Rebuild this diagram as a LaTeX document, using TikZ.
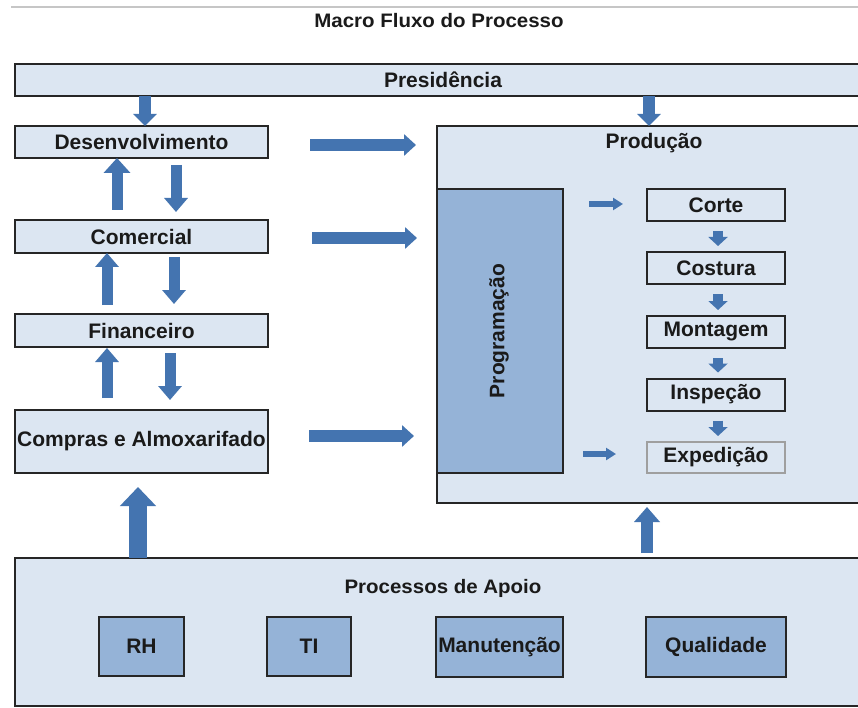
\documentclass[tikz,border=0pt]{standalone}
\usepackage{fontspec}
\setmainfont{Liberation Sans}
\usetikzlibrary{arrows.meta,calc}

\definecolor{boxfill}{HTML}{DCE6F2}
\definecolor{darkfill}{HTML}{95B3D7}
\definecolor{edge}{HTML}{262626}
\definecolor{arrowblue}{HTML}{4474B0}
\definecolor{inktext}{HTML}{1A1A1A}

\tikzset{
  lbl/.style={font=\bfseries\fontsize{21}{24}\selectfont, text=inktext, inner sep=0pt},
  headlbl/.style={font=\bfseries\fontsize{19.5}{22}\selectfont, text=inktext, inner sep=0pt},
  panel/.style={draw=edge, line width=2.2pt, fill=boxfill, inner sep=0pt, outer sep=0pt,
    font=\bfseries\fontsize{21}{24}\selectfont, text=inktext},
  darkpanel/.style={panel, fill=darkfill},
  stepbox/.style={panel, line width=2pt, minimum width=138pt, minimum height=32pt},
  blockarrow/.style n args={3}{draw=arrowblue, line width=#1pt,
    -{Triangle[width=#2pt,length=#3pt]}},
}

\begin{document}
\begin{tikzpicture}[x=1pt,y=-1pt]
  \clip (0,0) rectangle (858,708);
  \fill[white] (0,0) rectangle (858,708);

  % header rule and title
  \draw[gray!45, line width=1.5pt] (11,7) -- (858,7);
  \node[headlbl] (title) at (439,21) {\scalebox{1.05}[1]{Macro Fluxo do Processo}};

  % board
  \node[panel, minimum width=856pt, minimum height=32pt] (pres) at (443,80) {Presidência};

  % left column of departments
  \node[panel, minimum width=253pt, minimum height=32pt] (dev)  at (141.5,142)   {Desenvolvimento};
  \node[panel, minimum width=253pt, minimum height=33pt] (com)  at (141.5,236.5) {Comercial};
  \node[panel, minimum width=253pt, minimum height=33pt] (fin)  at (141.5,330.5) {Financeiro};
  \node[panel, minimum width=253pt, minimum height=63pt] (comp) at (141.5,441.5) {Compras e Almoxarifado};

  % production area
  \node[panel, minimum width=434pt, minimum height=377pt] (prod) at (654,314.5) {};
  \node[lbl] (prodlbl) at (654,143) {Produção};
  \node[darkpanel, minimum width=126pt, minimum height=284pt] (prog) at (500,331) {};
  \node[lbl, rotate=90] (proglbl) at (499,331) {Programação};

  \node[stepbox] (corte)    at (716,205)   {Corte};
  \node[stepbox] (costura)  at (716,268)   {Costura};
  \node[stepbox] (montagem) at (716,332)   {Montagem};
  \node[stepbox] (inspecao) at (716,394.5) {Inspeção};
  \node[stepbox, draw=gray!75, line width=1.3pt, minimum height=31pt] (expedicao) at (716,457.5) {Expedição};

  % support processes
  \node[panel, minimum width=856pt, minimum height=148pt] (apoio) at (443,632) {};
  \node[headlbl] (apoiolbl) at (443,588) {\scalebox{1.05}[1]{Processos de Apoio}};
  \node[darkpanel, line width=2pt, minimum width=85pt,  minimum height=59pt] (rh)   at (141.5,646.5) {RH};
  \node[darkpanel, line width=2pt, minimum width=84pt,  minimum height=59pt] (ti)   at (309,646.5)   {TI};
  \node[darkpanel, line width=2pt, minimum width=127pt, minimum height=60pt] (man)  at (499.5,647)   {Manutenção};
  \node[darkpanel, line width=2pt, minimum width=140pt, minimum height=60pt] (qual) at (716,647)     {Qualidade};

  % board to departments and production
  \draw[blockarrow={12}{23}{12}] ([xshift=3.5pt]pres.south -| dev.north) -- ([xshift=3.5pt]dev.north);
  \draw[blockarrow={12}{23}{12}] ([xshift=-5pt]pres.south -| prodlbl.south) -- ([xshift=-5pt]prodlbl.south |- prod.north);

  % exchanges between departments
  \draw[blockarrow={11}{26}{15}, shorten <=10pt] ([xshift=-24.5pt]com.north) -- ([xshift=-24.5pt]dev.south);
  \draw[blockarrow={11}{23}{14}, shorten <=7pt, shorten >=8pt] ([xshift=34.5pt]dev.south) -- ([xshift=34.5pt]com.north);
  \draw[blockarrow={11}{23}{14}, shorten <=9pt] ([xshift=-34.5pt]fin.north) -- ([xshift=-34.5pt]com.south);
  \draw[blockarrow={11}{23}{14}, shorten <=4pt, shorten >=10pt] ([xshift=32.5pt]com.south) -- ([xshift=32.5pt]fin.north);
  \draw[blockarrow={11}{23}{14}, shorten <=12pt, shorten >=1pt] ([xshift=-34.5pt]comp.north) -- ([xshift=-34.5pt]fin.south);
  \draw[blockarrow={11}{23}{14}, shorten <=6pt, shorten >=10pt] ([xshift=28.5pt]fin.south) -- ([xshift=28.5pt]comp.north);

  % departments to production
  \draw[blockarrow={12}{21}{12}, shorten <=42pt, shorten >=21pt] ([yshift=-3pt]dev.east) -- ([yshift=-3pt]dev.east -| prod.west);
  \draw[blockarrow={12}{21}{12}, shorten <=44pt, shorten >=20pt] ([yshift=-1.5pt]com.east) -- ([yshift=-1.5pt]com.east -| prod.west);
  \draw[blockarrow={12}{21}{12}, shorten <=41pt, shorten >=23pt] ([yshift=5.5pt]comp.east) -- ([yshift=5.5pt]comp.east -| prod.west);

  % support processes feeding upwards
  \draw[blockarrow={18}{35}{19}, shorten >=14pt] ([xshift=-3.5pt]apoio.north -| comp.south) -- ([xshift=-3.5pt]comp.south);
  \draw[blockarrow={12}{25}{15}, shorten <=5pt, shorten >=4pt] ([xshift=-7pt]apoio.north -| prodlbl.south) -- ([xshift=-7pt]prodlbl.south |- prod.south);

  % scheduling into the production line
  \draw[blockarrow={6}{12}{10}, shorten <=26pt, shorten >=24pt] ([yshift=1pt]prog.east |- corte.west) -- ([yshift=1pt]corte.west);
  \draw[blockarrow={6}{12}{10}, shorten <=20pt, shorten >=31pt] ([yshift=3.5pt]prog.east |- expedicao.west) -- ([yshift=3.5pt]expedicao.west);

  % production steps
  \foreach \a/\b in {corte/costura, costura/montagem, montagem/inspecao, inspecao/expedicao}
    \draw[blockarrow={10}{19}{9}, shorten <=10pt, shorten >=6pt] ([xshift=2pt]\a.south) -- ([xshift=2pt]\b.north);
\end{tikzpicture}
\end{document}
